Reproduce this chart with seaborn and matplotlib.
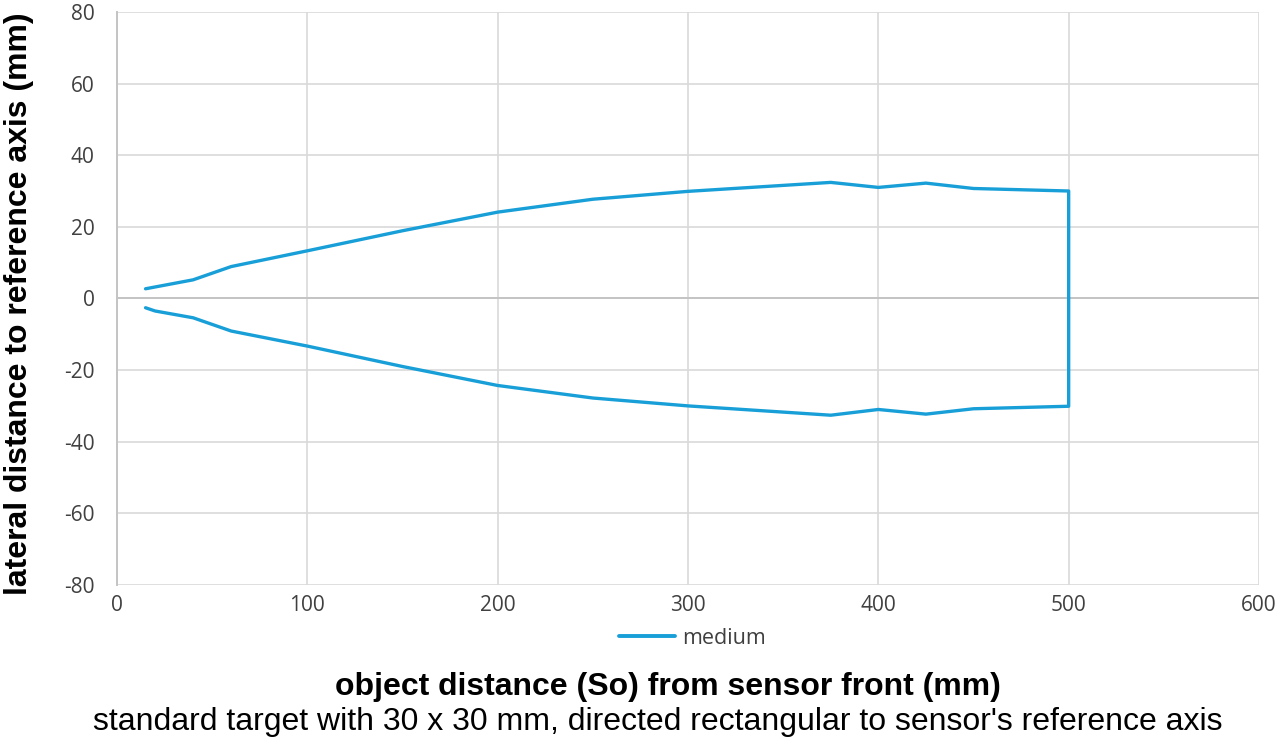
import pandas as pd
import matplotlib
matplotlib.use('Agg')
import matplotlib.pyplot as plt
import seaborn as sns

# upper edge of detection field, left to right
upper_x = [15, 40, 60, 100, 150, 200, 250, 300, 375, 400, 425, 450, 500]
upper_y = [2.7, 5.2, 8.9, 13.3, 18.9, 24.1, 27.7, 29.9, 32.4, 31.0, 32.2, 30.7, 30.0]
# lower edge of detection field, right to left
lower_x = [500, 450, 425, 400, 375, 300, 250, 200, 150, 100, 60, 40, 20, 15]
lower_y = [-30.1, -30.8, -32.3, -31.0, -32.6, -30.0, -27.8, -24.3, -19.0, -13.3, -9.1, -5.4, -3.5, -2.6]

x_ticks = [0, 100, 200, 300, 400, 500, 600]
y_ticks = [-80, -60, -40, -20, 0, 20, 40, 60, 80]

df = pd.DataFrame({'x': upper_x + lower_x, 'y': upper_y + lower_y})
df['series'] = 'medium'

sns.set_theme(style='white')
plt.rcParams['font.family'] = ['Open Sans', 'DejaVu Sans']
plt.rcParams['axes.unicode_minus'] = False

fig = plt.figure(figsize=(12.8, 7.45), dpi=100)
ax = fig.add_axes([0.0914, 0.2148, 0.8922, 0.7692])

sns.lineplot(data=df, x='x', y='y', hue='series', sort=False, estimator=None,
             palette=['#189fd8'], linewidth=2.4, ax=ax, legend=False)

ax.set_xlim(0, 600)
ax.set_ylim(-80, 80)
ax.set_xticks(x_ticks)
ax.set_yticks(y_ticks)
ax.grid(True, color='#d9d9d9', linewidth=1.2)
ax.axhline(0, color='#c4c4c4', linewidth=1.4, zorder=1)
for s in ['top', 'right', 'bottom']:
    ax.spines[s].set_visible(False)
ax.spines['left'].set_color('#c4c4c4')
ax.spines['left'].set_linewidth(1.4)
ax.tick_params(axis='both', length=0, labelsize=15, labelcolor='#404040')
ax.tick_params(axis='y', pad=16)
ax.tick_params(axis='x', pad=7)
ax.set_xlabel('')
ax.set_ylabel('')

handles = [plt.Line2D([], [], color='#189fd8', linewidth=2.8)]
fig.legend(handles, ['medium'], loc='center', bbox_to_anchor=(0.541, 0.143),
           frameon=False, fontsize=15.5, handlelength=2.6, handletextpad=0.3,
           labelcolor='#404040')

lab_font = ['Liberation Sans', 'DejaVu Sans']
fig.text(0.522, 0.078, 'object distance (So) from sensor front (mm)',
         ha='center', va='center', fontsize=23, fontweight='bold', color='black',
         family=lab_font)
fig.text(0.514, 0.031,
         "standard target with 30 x 30 mm, directed rectangular to sensor's reference axis",
         ha='center', va='center', fontsize=23, color='black', family=lab_font)
fig.text(0.015, 0.593, 'lateral distance to reference axis (mm)',
         ha='center', va='center', rotation=90, fontsize=23, fontweight='bold',
         color='black', family=lab_font)

fig.savefig('out.png', dpi=100)
